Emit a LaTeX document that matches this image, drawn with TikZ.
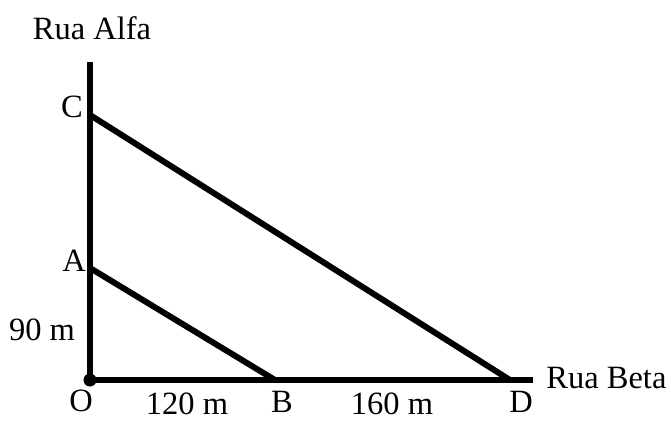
\documentclass[tikz,border=0pt]{standalone}
\usepackage{fontspec}
\setmainfont{Liberation Serif}
\begin{document}
\begin{tikzpicture}[x=0.02cm,y=-0.02cm,
  street/.style={line width=3.4pt},
  txt/.style={inner sep=0pt,font=\fontsize{18.5}{22}\selectfont}]
\useasboundingbox (0,0) rectangle (671,421);
\coordinate (O) at (90,380);
\coordinate (top) at (90,62);
\coordinate (end) at (533,380);
\coordinate (A) at (90,268);
\coordinate (B) at (275,380);
\coordinate (C) at (90,115);
\coordinate (D) at (510,380);

\draw[street] (O) -- (top);
\draw[street] (O) -- (end);
\draw[street] (A) -- (B);
\draw[street] (C) -- (D);
\fill (O) circle (6.5);

\node[txt] (alfa) at (92,28) {Rua Alfa};
\node[txt,anchor=west] (beta) at (546,378) {Rua Beta};
\node[txt] (lc) at (72,107) {C};
\node[txt] (la) at (74,261) {A};
\node[txt] (lo) at (81,401) {O};
\node[txt] (lb) at (282,402) {B};
\node[txt] (ld) at (521,402) {D};
\node[txt] (h) at (42,330) {90 m};
\node[txt] (ob) at (187,404) {120 m};
\node[txt] (bd) at (392,404) {160 m};
\end{tikzpicture}
\end{document}
